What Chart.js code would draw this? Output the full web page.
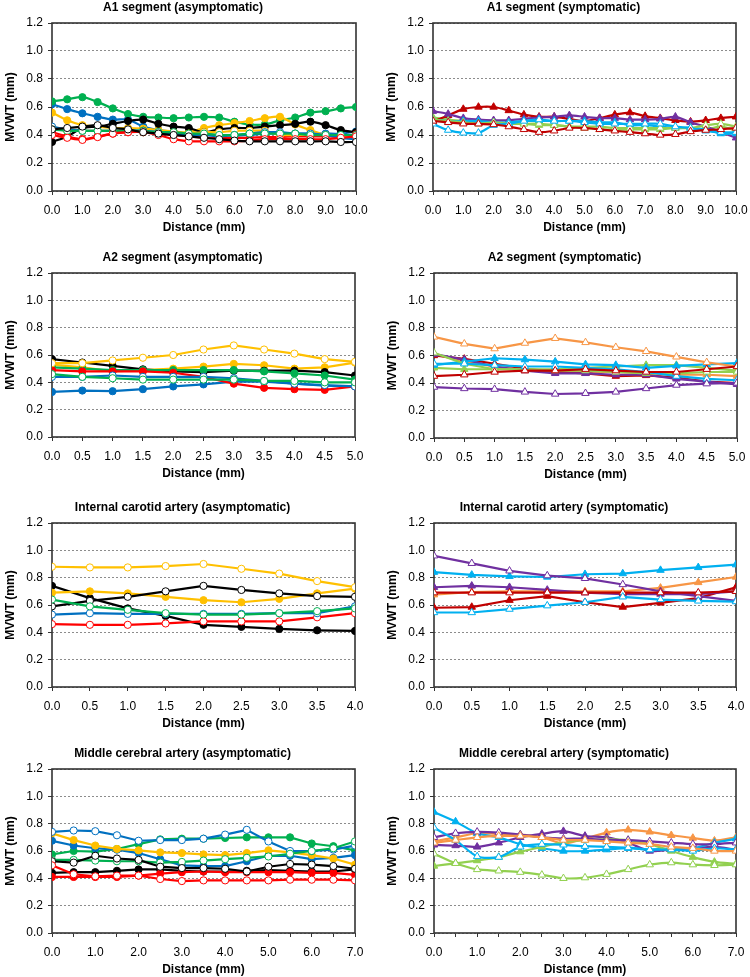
<!DOCTYPE html>
<html>
<head>
<meta charset="utf-8">
<script src="https://cdn.jsdelivr.net/npm/chart.js@4.4.1/dist/chart.umd.min.js"></script>
<style>
  html, body { margin: 0; padding: 0; background: #fff; }
  #wrap { position: relative; width: 750px; height: 977px; }
  #wrap canvas { position: absolute; }
</style>
</head>
<body>
<div id="wrap"></div>
<script>
// distances along the vessel (mm)
const dist10 = [0.0, 0.5, 1.0, 1.5, 2.0, 2.5, 3.0, 3.5, 4.0, 4.5, 5.0, 5.5, 6.0, 6.5, 7.0, 7.5, 8.0, 8.5, 9.0, 9.5, 10.0];
const dist5 = [0.0, 0.5, 1.0, 1.5, 2.0, 2.5, 3.0, 3.5, 4.0, 4.5, 5.0];
const dist4 = [0.0, 0.5, 1.0, 1.5, 2.0, 2.5, 3.0, 3.5, 4.0];
const dist7 = [0.0, 0.5, 1.0, 1.5, 2.0, 2.5, 3.0, 3.5, 4.0, 4.5, 5.0, 5.5, 6.0, 6.5, 7.0];
const mvwtTicks = [0.0, 0.2, 0.4, 0.6, 0.8, 1.0, 1.2];

// A1 segment, asymptomatic
const a1AsymBlackOpen = [0.44, 0.45, 0.46, 0.47, 0.45, 0.44, 0.42, 0.41, 0.40, 0.39, 0.38, 0.37, 0.36, 0.355, 0.355, 0.355, 0.355, 0.355, 0.355, 0.35, 0.35];
const a1AsymRedOpen = [0.40, 0.38, 0.365, 0.385, 0.41, 0.42, 0.42, 0.40, 0.37, 0.355, 0.355, 0.355, 0.355, 0.36, 0.37, 0.37, 0.37, 0.37, 0.37, 0.38, 0.39];
const a1AsymGreenOpen = [0.44, 0.43, 0.43, 0.43, 0.43, 0.43, 0.43, 0.42, 0.42, 0.41, 0.41, 0.40, 0.40, 0.41, 0.41, 0.41, 0.41, 0.40, 0.40, 0.40, 0.40];
const a1AsymBlueOpen = [0.46, 0.44, 0.43, 0.43, 0.43, 0.43, 0.43, 0.42, 0.41, 0.40, 0.40, 0.39, 0.40, 0.41, 0.42, 0.42, 0.41, 0.41, 0.40, 0.38, 0.37];
const a1AsymYellowOpen = [0.45, 0.43, 0.43, 0.43, 0.43, 0.43, 0.42, 0.42, 0.41, 0.41, 0.42, 0.42, 0.43, 0.43, 0.43, 0.40, 0.40, 0.40, 0.40, 0.39, 0.38];
const a1AsymBlack = [0.35, 0.39, 0.45, 0.46, 0.48, 0.50, 0.51, 0.48, 0.46, 0.45, 0.42, 0.44, 0.45, 0.45, 0.46, 0.47, 0.48, 0.495, 0.47, 0.435, 0.42];
const a1AsymRed = [0.42, 0.39, 0.37, 0.39, 0.41, 0.42, 0.43, 0.41, 0.40, 0.39, 0.38, 0.38, 0.38, 0.38, 0.385, 0.385, 0.39, 0.39, 0.39, 0.39, 0.405];
const a1AsymGreen = [0.64, 0.655, 0.67, 0.635, 0.59, 0.55, 0.53, 0.525, 0.52, 0.525, 0.53, 0.525, 0.495, 0.475, 0.475, 0.505, 0.525, 0.56, 0.57, 0.59, 0.60];
const a1AsymBlue = [0.62, 0.585, 0.555, 0.53, 0.51, 0.51, 0.46, 0.435, 0.425, 0.41, 0.405, 0.40, 0.395, 0.40, 0.41, 0.41, 0.41, 0.41, 0.41, 0.41, 0.425];
const a1AsymYellow = [0.56, 0.505, 0.47, 0.46, 0.45, 0.45, 0.445, 0.435, 0.425, 0.42, 0.45, 0.47, 0.485, 0.50, 0.52, 0.53, 0.475, 0.435, 0.40, 0.39, 0.39];

// A1 segment, symptomatic
const a1SymRedOpen = [0.50, 0.49, 0.48, 0.48, 0.475, 0.46, 0.44, 0.42, 0.43, 0.45, 0.45, 0.44, 0.43, 0.42, 0.41, 0.40, 0.405, 0.425, 0.435, 0.44, 0.45];
const a1SymBlueOpen = [0.48, 0.435, 0.415, 0.415, 0.47, 0.48, 0.50, 0.51, 0.50, 0.50, 0.49, 0.48, 0.48, 0.48, 0.48, 0.48, 0.46, 0.45, 0.43, 0.42, 0.42];
const a1SymGreenOpen = [0.51, 0.50, 0.49, 0.48, 0.49, 0.48, 0.48, 0.48, 0.47, 0.46, 0.46, 0.46, 0.45, 0.45, 0.45, 0.45, 0.45, 0.45, 0.47, 0.48, 0.46];
const a1SymRed = [0.495, 0.54, 0.585, 0.60, 0.60, 0.575, 0.545, 0.53, 0.53, 0.515, 0.50, 0.52, 0.545, 0.56, 0.535, 0.52, 0.505, 0.495, 0.505, 0.52, 0.53];
const a1SymPurple = [0.57, 0.55, 0.52, 0.51, 0.505, 0.505, 0.515, 0.525, 0.53, 0.54, 0.53, 0.52, 0.52, 0.51, 0.51, 0.515, 0.53, 0.49, 0.46, 0.42, 0.38];
const a1SymBlue = [0.51, 0.50, 0.50, 0.50, 0.49, 0.49, 0.50, 0.50, 0.50, 0.50, 0.50, 0.49, 0.49, 0.47, 0.47, 0.46, 0.45, 0.45, 0.44, 0.41, 0.41];
const a1SymGreen = [0.525, 0.51, 0.50, 0.49, 0.49, 0.485, 0.48, 0.47, 0.47, 0.46, 0.45, 0.44, 0.435, 0.44, 0.44, 0.44, 0.45, 0.45, 0.44, 0.46, 0.43];

// A2 segment, asymptomatic
const a2AsymGreenOpen = [0.46, 0.44, 0.43, 0.42, 0.42, 0.42, 0.42, 0.41, 0.41, 0.40, 0.40];
const a2AsymBlueOpen = [0.44, 0.44, 0.45, 0.44, 0.44, 0.44, 0.43, 0.41, 0.39, 0.38, 0.37];
const a2AsymYellowOpen = [0.54, 0.54, 0.56, 0.58, 0.60, 0.64, 0.67, 0.64, 0.61, 0.57, 0.55];
const a2AsymBlack = [0.57, 0.545, 0.52, 0.495, 0.48, 0.475, 0.485, 0.485, 0.485, 0.475, 0.45];
const a2AsymRed = [0.49, 0.48, 0.48, 0.48, 0.47, 0.44, 0.39, 0.36, 0.35, 0.345, 0.37];
const a2AsymGreen = [0.51, 0.50, 0.49, 0.49, 0.49, 0.49, 0.49, 0.48, 0.465, 0.45, 0.42];
const a2AsymBlue = [0.33, 0.34, 0.335, 0.35, 0.37, 0.385, 0.405, 0.405, 0.39, 0.375, 0.37];
const a2AsymYellow = [0.53, 0.51, 0.48, 0.49, 0.50, 0.515, 0.535, 0.525, 0.50, 0.51, 0.545];

// A2 segment, symptomatic
const a2SymRedOpen = [0.45, 0.46, 0.48, 0.49, 0.49, 0.50, 0.49, 0.48, 0.48, 0.50, 0.52];
const a2SymPurpleOpen = [0.37, 0.36, 0.355, 0.335, 0.32, 0.325, 0.335, 0.36, 0.385, 0.395, 0.40];
const a2SymBlueOpen = [0.54, 0.54, 0.53, 0.52, 0.52, 0.51, 0.50, 0.48, 0.45, 0.43, 0.42];
const a2SymGreenOpen = [0.62, 0.54, 0.50, 0.50, 0.49, 0.49, 0.48, 0.47, 0.47, 0.48, 0.48];
const a2SymOrangeOpen = [0.735, 0.685, 0.65, 0.69, 0.725, 0.695, 0.66, 0.63, 0.59, 0.55, 0.52];
const a2SymRed = [0.60, 0.575, 0.54, 0.505, 0.48, 0.47, 0.45, 0.455, 0.44, 0.41, 0.40];
const a2SymPurple = [0.61, 0.57, 0.52, 0.49, 0.47, 0.47, 0.46, 0.46, 0.43, 0.41, 0.39];
const a2SymBlue = [0.53, 0.555, 0.58, 0.57, 0.555, 0.535, 0.53, 0.51, 0.525, 0.535, 0.545];
const a2SymGreen = [0.51, 0.50, 0.50, 0.50, 0.50, 0.51, 0.52, 0.53, 0.53, 0.51, 0.49];
const a2SymOrange = [0.61, 0.555, 0.52, 0.49, 0.49, 0.48, 0.48, 0.47, 0.46, 0.46, 0.45];

// Internal carotid artery, asymptomatic
const icaAsymBlackOpen = [0.59, 0.63, 0.66, 0.70, 0.74, 0.71, 0.685, 0.665, 0.66];
const icaAsymRedOpen = [0.46, 0.455, 0.455, 0.465, 0.48, 0.48, 0.48, 0.51, 0.54];
const icaAsymGreenOpen = [0.64, 0.59, 0.565, 0.54, 0.53, 0.53, 0.54, 0.555, 0.575];
const icaAsymBlueOpen = [0.53, 0.54, 0.535, 0.535, 0.535, 0.535, 0.54, 0.54, 0.59];
const icaAsymYellowOpen = [0.88, 0.875, 0.875, 0.885, 0.90, 0.865, 0.83, 0.775, 0.73];
const icaAsymBlack = [0.74, 0.65, 0.575, 0.52, 0.455, 0.44, 0.425, 0.415, 0.41];
const icaAsymYellow = [0.69, 0.70, 0.685, 0.66, 0.635, 0.62, 0.645, 0.685, 0.72];

// Internal carotid artery, symptomatic
const icaSymRedOpen = [0.69, 0.69, 0.69, 0.69, 0.69, 0.69, 0.69, 0.69, 0.70];
const icaSymPurpleOpen = [0.96, 0.905, 0.85, 0.815, 0.795, 0.75, 0.70, 0.665, 0.63];
const icaSymBlueOpen = [0.545, 0.545, 0.57, 0.595, 0.62, 0.66, 0.64, 0.63, 0.625];
const icaSymRed = [0.58, 0.585, 0.635, 0.665, 0.62, 0.585, 0.615, 0.65, 0.73];
const icaSymPurple = [0.73, 0.74, 0.73, 0.71, 0.69, 0.68, 0.68, 0.68, 0.70];
const icaSymBlue = [0.84, 0.82, 0.81, 0.805, 0.825, 0.83, 0.855, 0.875, 0.895];
const icaSymOrange = [0.675, 0.695, 0.70, 0.70, 0.70, 0.70, 0.725, 0.765, 0.805];

// Middle cerebral artery, asymptomatic
const mcaAsymBlackOpen = [0.525, 0.515, 0.565, 0.545, 0.535, 0.485, 0.475, 0.475, 0.47, 0.45, 0.485, 0.505, 0.50, 0.49, 0.47];
const mcaAsymRedOpen = [0.495, 0.43, 0.415, 0.42, 0.42, 0.395, 0.38, 0.385, 0.385, 0.385, 0.385, 0.39, 0.39, 0.39, 0.385];
const mcaAsymGreenOpen = [0.535, 0.535, 0.53, 0.525, 0.525, 0.515, 0.52, 0.53, 0.54, 0.55, 0.56, 0.58, 0.60, 0.62, 0.67];
const mcaAsymBlueOpen = [0.74, 0.75, 0.745, 0.715, 0.675, 0.68, 0.68, 0.69, 0.72, 0.755, 0.67, 0.60, 0.60, 0.61, 0.64];
const mcaAsymBlack = [0.44, 0.445, 0.445, 0.455, 0.465, 0.465, 0.455, 0.45, 0.45, 0.455, 0.46, 0.455, 0.45, 0.45, 0.465];
const mcaAsymRed = [0.41, 0.41, 0.41, 0.41, 0.42, 0.435, 0.445, 0.45, 0.445, 0.445, 0.445, 0.445, 0.44, 0.44, 0.425];
const mcaAsymGreen = [0.575, 0.60, 0.595, 0.615, 0.65, 0.685, 0.69, 0.69, 0.695, 0.70, 0.70, 0.70, 0.655, 0.635, 0.605];
const mcaAsymBlue = [0.675, 0.64, 0.62, 0.61, 0.585, 0.54, 0.495, 0.49, 0.49, 0.525, 0.565, 0.565, 0.54, 0.55, 0.57];
const mcaAsymYellow = [0.73, 0.68, 0.64, 0.615, 0.605, 0.59, 0.585, 0.575, 0.57, 0.585, 0.605, 0.59, 0.57, 0.545, 0.50];

// Middle cerebral artery, symptomatic
const mcaSymPurpleOpen = [0.70, 0.73, 0.74, 0.735, 0.72, 0.70, 0.69, 0.69, 0.68, 0.68, 0.67, 0.66, 0.65, 0.65, 0.66];
const mcaSymBlueOpen = [0.77, 0.68, 0.56, 0.555, 0.63, 0.65, 0.645, 0.635, 0.63, 0.625, 0.61, 0.61, 0.60, 0.62, 0.61];
const mcaSymGreenOpen = [0.58, 0.51, 0.465, 0.455, 0.445, 0.425, 0.40, 0.405, 0.43, 0.465, 0.50, 0.515, 0.50, 0.495, 0.50];
const mcaSymOrangeOpen = [0.66, 0.68, 0.70, 0.71, 0.71, 0.70, 0.68, 0.68, 0.67, 0.66, 0.65, 0.63, 0.62, 0.60, 0.60];
const mcaSymPurple = [0.645, 0.64, 0.63, 0.66, 0.70, 0.725, 0.745, 0.71, 0.70, 0.66, 0.60, 0.61, 0.62, 0.63, 0.61];
const mcaSymBlue = [0.885, 0.815, 0.73, 0.70, 0.65, 0.62, 0.60, 0.60, 0.61, 0.62, 0.61, 0.62, 0.62, 0.66, 0.69];
const mcaSymGreen = [0.49, 0.51, 0.53, 0.555, 0.595, 0.63, 0.665, 0.68, 0.685, 0.68, 0.65, 0.60, 0.555, 0.52, 0.505];
const mcaSymOrange = [0.67, 0.70, 0.73, 0.725, 0.72, 0.70, 0.655, 0.69, 0.735, 0.755, 0.74, 0.715, 0.695, 0.675, 0.70];

const C = {
  black: '#000000', red: '#ff0000', green: '#00b050', blue: '#0070c0', yellow: '#ffc000',
  darkRed: '#c00000', purple: '#7030a0', sky: '#00b0f0', lime: '#92d050', orange: '#f79646'
};
const FONT = '"Liberation Sans", Arial, sans-serif';

// frame around the plot area + panel heading
const panelDecor = {
  id: 'panelDecor',
  beforeDatasetsDraw(chart) {
    const {ctx, chartArea: a} = chart;
    ctx.save();
    ctx.strokeStyle = '#333';
    ctx.lineWidth = 1.6;
    ctx.strokeRect(a.left, a.top, a.right - a.left, a.bottom - a.top);
    ctx.restore();
  },
  afterDraw(chart, args, opts) {
    const {ctx, chartArea: a} = chart;
    ctx.save();
    ctx.fillStyle = '#000';
    ctx.font = 'bold 12px ' + FONT;
    ctx.textAlign = 'center';
    ctx.textBaseline = 'middle';
    ctx.fillText(opts.text, (a.left + a.right) / 2 - 21, a.top - 15);
    ctx.restore();
  }
};

function line(data, color, filled, shape, tension) {
  return {
    data: data,
    borderColor: color,
    backgroundColor: color,
    borderWidth: 2.2,
    tension: tension,
    pointStyle: shape,
    pointRadius: shape === 'triangle' ? 4.3 : 3.6,
    pointBorderWidth: 1,
    pointBorderColor: color,
    pointBackgroundColor: filled ? color : '#ffffff'
  };
}

function makePanel(p) {
  const canvas = document.createElement('canvas');
  const w = p.R - p.L + 52 + 20;
  const h = p.B - p.T + 23 + 45;
  canvas.width = w;
  canvas.height = h;
  canvas.style.left = (p.L - 52) + 'px';
  canvas.style.top = (p.T - 23) + 'px';
  canvas.style.width = w + 'px';
  canvas.style.height = h + 'px';
  document.getElementById('wrap').appendChild(canvas);

  const shape = p.sym ? 'triangle' : 'circle';
  const datasets = p.series.map(s => line(s[0], s[1], s[2], shape, p.tension));

  new Chart(canvas, {
    type: 'line',
    data: { labels: p.dist, datasets: datasets },
    options: {
      responsive: false,
      animation: false,
      events: [],
      layout: { padding: { top: 23, left: 0, right: 20, bottom: 0 } },
      plugins: {
        legend: { display: false },
        tooltip: { enabled: false },
        panelDecor: { text: p.title }
      },
      scales: {
        x: {
          type: 'linear',
          min: p.dist[0],
          max: p.dist[p.dist.length - 1],
          afterBuildTicks: s => { s.ticks = p.dist.map(v => ({ value: v })); },
          afterFit: s => { s.height = 45; },
          grid: { drawOnChartArea: false, drawTicks: true, tickLength: 4, tickColor: '#333', tickWidth: 1 },
          border: { display: false },
          ticks: {
            autoSkip: false, maxRotation: 0, padding: 8, color: '#000',
            font: { family: FONT, size: 12 },
            callback: v => (p.wholeOnly && v % 1 !== 0) ? '' : Number(v).toFixed(1)
          },
          title: {
            display: true, text: 'Distance (mm)', color: '#000',
            font: { family: FONT, size: 12, weight: 'bold' },
            padding: { top: 0, bottom: 1 }
          }
        },
        y: {
          min: 0,
          max: 1.2,
          afterBuildTicks: s => { s.ticks = mvwtTicks.map(v => ({ value: v })); },
          afterFit: s => { s.width = 52; },
          grid: { color: '#8c8c8c', lineWidth: 1, drawTicks: true, tickLength: 4, tickColor: '#333', tickBorderDash: [] },
          border: { display: false, dash: [2, 2] },
          ticks: {
            padding: 5, color: '#000',
            font: { family: FONT, size: 12 },
            callback: v => Number(v).toFixed(1)
          },
          title: {
            display: true, text: 'MVWT (mm)', color: '#000',
            font: { family: FONT, size: 12, weight: 'bold' },
            padding: { top: 3, bottom: 0 }
          }
        }
      }
    },
    plugins: [panelDecor]
  });
}

const panels = [
  { title: 'A1 segment (asymptomatic)', dist: dist10, wholeOnly: true, sym: false, tension: 0.3,
    L: 52, R: 356, T: 23, B: 191,
    series: [
      [a1AsymBlackOpen, C.black, false], [a1AsymRedOpen, C.red, false], [a1AsymGreenOpen, C.green, false],
      [a1AsymBlueOpen, C.blue, false], [a1AsymYellowOpen, C.yellow, false],
      [a1AsymRed, C.red, true], [a1AsymBlack, C.black, true], [a1AsymYellow, C.yellow, true],
      [a1AsymGreen, C.green, true], [a1AsymBlue, C.blue, true]
    ] },
  { title: 'A1 segment (symptomatic)', dist: dist10, wholeOnly: true, sym: true, tension: 0.3,
    L: 433, R: 736, T: 23, B: 191,
    series: [
      [a1SymRedOpen, C.darkRed, false], [a1SymBlueOpen, C.sky, false], [a1SymGreenOpen, C.lime, false],
      [a1SymBlue, C.sky, true], [a1SymPurple, C.purple, true], [a1SymRed, C.darkRed, true], [a1SymGreen, C.lime, true]
    ] },
  { title: 'A2 segment (asymptomatic)', dist: dist5, wholeOnly: false, sym: false, tension: 0,
    L: 52, R: 355, T: 273, B: 437,
    series: [
      [a2AsymGreenOpen, C.green, false], [a2AsymBlueOpen, C.blue, false], [a2AsymYellowOpen, C.yellow, false],
      [a2AsymRed, C.red, true], [a2AsymGreen, C.green, true], [a2AsymBlack, C.black, true],
      [a2AsymBlue, C.blue, true], [a2AsymYellow, C.yellow, true]
    ] },
  { title: 'A2 segment (symptomatic)', dist: dist5, wholeOnly: false, sym: true, tension: 0,
    L: 434, R: 737, T: 273, B: 438,
    series: [
      [a2SymRedOpen, C.darkRed, false], [a2SymPurpleOpen, C.purple, false], [a2SymBlueOpen, C.sky, false],
      [a2SymGreenOpen, C.lime, false], [a2SymOrangeOpen, C.orange, false],
      [a2SymBlue, C.sky, true], [a2SymGreen, C.lime, true], [a2SymPurple, C.purple, true],
      [a2SymRed, C.darkRed, true], [a2SymOrange, C.orange, true]
    ] },
  { title: 'Internal carotid artery (asymptomatic)', dist: dist4, wholeOnly: false, sym: false, tension: 0,
    L: 52, R: 355, T: 523, B: 687,
    series: [
      [icaAsymGreenOpen, C.green, false], [icaAsymBlueOpen, C.blue, false], [icaAsymRedOpen, C.red, false],
      [icaAsymBlackOpen, C.black, false], [icaAsymYellowOpen, C.yellow, false],
      [icaAsymYellow, C.yellow, true], [icaAsymBlack, C.black, true]
    ] },
  { title: 'Internal carotid artery (symptomatic)', dist: dist4, wholeOnly: false, sym: true, tension: 0,
    L: 434, R: 736, T: 523, B: 687,
    series: [
      [icaSymBlueOpen, C.sky, false], [icaSymRedOpen, C.darkRed, false], [icaSymPurpleOpen, C.purple, false],
      [icaSymPurple, C.purple, true], [icaSymOrange, C.orange, true], [icaSymRed, C.darkRed, true],
      [icaSymBlue, C.sky, true]
    ] },
  { title: 'Middle cerebral artery (asymptomatic)', dist: dist7, wholeOnly: true, sym: false, tension: 0,
    L: 52, R: 355, T: 769, B: 933,
    series: [
      [mcaAsymRedOpen, C.red, false], [mcaAsymBlackOpen, C.black, false], [mcaAsymGreenOpen, C.green, false],
      [mcaAsymBlueOpen, C.blue, false],
      [mcaAsymRed, C.red, true], [mcaAsymBlack, C.black, true], [mcaAsymYellow, C.yellow, true],
      [mcaAsymBlue, C.blue, true], [mcaAsymGreen, C.green, true]
    ] },
  { title: 'Middle cerebral artery (symptomatic)', dist: dist7, wholeOnly: true, sym: true, tension: 0.25,
    L: 434, R: 736, T: 769, B: 933,
    series: [
      [mcaSymGreenOpen, C.lime, false], [mcaSymOrangeOpen, C.orange, false], [mcaSymBlueOpen, C.sky, false],
      [mcaSymPurpleOpen, C.purple, false],
      [mcaSymGreen, C.lime, true], [mcaSymBlue, C.sky, true], [mcaSymPurple, C.purple, true],
      [mcaSymOrange, C.orange, true]
    ] }
];

panels.forEach(makePanel);
</script>
</body>
</html>
